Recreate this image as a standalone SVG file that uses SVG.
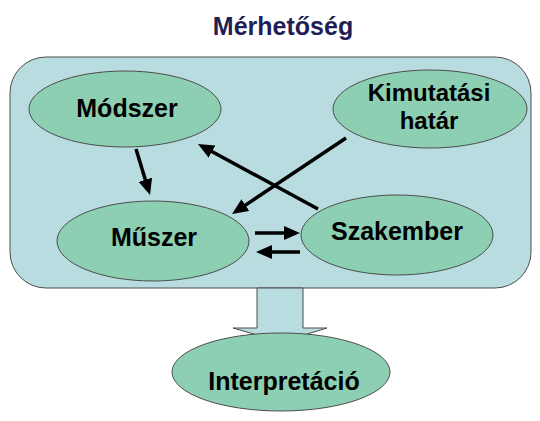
<svg xmlns="http://www.w3.org/2000/svg" width="540" height="421" viewBox="0 0 540 421">
  <defs>
    <style>
      .frame { fill: #b8dcdf; stroke: #4d4d4d; stroke-width: 1; }
      .node ellipse { fill: #8ccfb2; stroke: #4d4d4d; stroke-width: 1; }
      .label { font-family: "Liberation Sans", Arial, sans-serif; font-weight: bold; font-size: 25px; fill: #000; text-anchor: middle; }
      .label.small { font-size: 24px; }
      .title { font-family: "Liberation Sans", Arial, sans-serif; font-weight: bold; font-size: 25px; fill: #1f1f55; text-anchor: middle; }
      .conn line { stroke: #000; stroke-width: 3.5; marker-end: url(#head); }
      .bigarrow { fill: #b8dcdf; stroke: #4d4d4d; stroke-width: 1; }
    </style>
    <marker id="head" markerUnits="userSpaceOnUse" markerWidth="16" markerHeight="14" refX="8" refY="7" orient="auto">
      <path d="M0,0 L16,7 L0,14 Z" fill="#000"/>
    </marker>
  </defs>

  <text class="title" x="283" y="35">Mérhetőség</text>

  <!-- container -->
  <rect class="frame" x="10" y="57" width="521" height="231" rx="36" ry="36"/>

  <!-- nodes -->
  <g id="modszer" class="node">
    <ellipse cx="125" cy="109" rx="96" ry="38"/>
    <text class="label" x="127" y="117">Módszer</text>
  </g>
  <g id="kimutatasi-hatar" class="node">
    <ellipse cx="430" cy="109" rx="97" ry="39"/>
    <text class="label small" x="429" y="101">Kimutatási</text>
    <text class="label small" x="429" y="129">határ</text>
  </g>
  <g id="muszer" class="node">
    <ellipse cx="153" cy="241" rx="96" ry="40"/>
    <text class="label" x="154" y="246">Műszer</text>
  </g>
  <g id="szakember" class="node">
    <ellipse cx="397" cy="235" rx="96" ry="40"/>
    <text class="label" x="397" y="240">Szakember</text>
  </g>

  <!-- connectors -->
  <g id="connectors" class="conn">
    <line x1="136" y1="149" x2="147.7" y2="187.4"/>
    <line x1="318" y1="209" x2="205" y2="147.8"/>
    <line x1="346" y1="138" x2="238.7" y2="209.6"/>
    <line x1="255" y1="233" x2="292" y2="233"/>
    <line x1="300" y1="252" x2="264" y2="252"/>
  </g>

  <!-- block arrow down to interpretation -->
  <polygon id="block-arrow" class="bigarrow" points="257,288 303,288 303,328 327,328 281,342 233,328 257,328"/>

  <g id="interpretacio" class="node">
    <ellipse cx="281" cy="372" rx="109" ry="39"/>
    <text class="label" x="284" y="390">Interpretáció</text>
  </g>
</svg>
